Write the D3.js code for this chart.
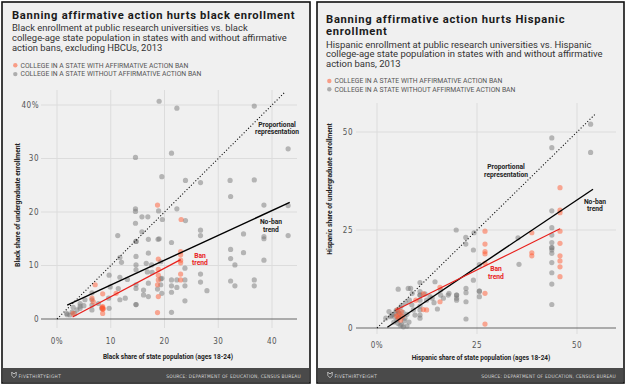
<!DOCTYPE html>
<html><head><meta charset="utf-8">
<script src="https://cdn.jsdelivr.net/npm/d3@7"></script>
<style>body{margin:0;background:#fff}svg{display:block}</style>
</head><body><svg id="c" width="627" height="385"></svg>
<script>
// ---------- DATA ----------
const blackTicksX = [0, 10, 20, 30, 40];
const blackTicksY = [0, 10, 20, 30, 40];
const hispTicksX = [0, 25, 50];
const hispTicksY = [0, 25, 50];

// [state share, enrollment share]
const blackNoBan = [[19.0,40.7],[22.3,39.4],[36.7,39.8],[14.6,30.2],[21.3,31.0],[43.0,31.8],[19.5,26.6],[23.9,25.9],[26.7,25.5],[32.2,25.9],[36.7,26.0],[32.3,22.9],[38.5,21.3],[43.0,21.2],[14.6,20.6],[14.6,20.1],[18.9,20.2],[22.3,20.6],[15.8,19.1],[16.9,19.1],[19.6,18.6],[23.9,18.4],[14.6,17.9],[15.8,16.3],[26.7,16.6],[26.7,15.6],[34.7,15.9],[38.5,15.4],[38.5,15.0],[43.0,15.6],[11.3,15.6],[19.0,15.0],
[14.7,14.5],[14.7,14.5],[17.0,14.9],[18.8,14.9],[11.7,11.5],[14.7,11.7],[17.0,12.3],[12.0,10.6],[14.7,10.1],[16.6,10.4],[17.6,10.1],[19.3,10.7],[9.7,8.2],[11.7,7.8],[13.1,7.4],[14.7,9.2],[16.8,8.8],[17.7,8.7],[19.3,7.5],[14.7,6.4],[14.7,5.7],[16.1,5.4],[17.0,6.7],[19.3,6.4],[18.7,5.6],[11.4,5.7],[12.7,3.9],[11.7,3.6],[9.6,3.9],[9.7,2.0],[14.7,2.7],[14.7,2.7],[16.1,4.5],[17.0,4.2],[6.5,4.9],[6.5,3.6],[6.5,2.6],[6.5,1.7],[7.7,2.9],[8.3,2.0],[4.3,2.9],[4.3,2.0],[3.0,2.2],[3.7,1.7],[1.8,1.05],[2.4,0.75],[4.3,2.4],[5.2,3.6],[9.9,6.0],[1.9,0.8],[2.8,1.3],[3.3,1.0],[5.0,2.5],
[21.3,14.3],[32.3,13.0],[34.7,12.4],[32.3,11.3],[33.1,10.1],[38.5,11.0],[23.8,9.5],[26.7,8.4],[26.7,6.9],[32.3,7.1],[33.1,6.2],[36.7,7.3],[36.7,6.2],[27.9,5.3],[21.3,7.3],[21.3,6.2],[21.3,5.0],[22.3,7.3],[22.3,5.9],[23.8,7.3],[23.8,6.2],[23.8,3.4],[21.3,1.25],[19.5,7.6],[19.5,4.8]];
const blackBan = [[18.7,21.3],[23.1,18.6],[18.85,11.2],[18.85,9.3],[18.85,8.2],[18.85,7.3],[18.7,6.4],[18.85,4.2],[18.7,1.2],[7.1,6.4],[6.5,3.9],[6.75,3.2],[8.5,4.7],[8.5,2.3],[8.4,2.2],[8.6,1.9],[8.5,2.0],[8.5,1.8],[8.5,1.05],[11.0,4.8],[3.0,1.05],[23.0,12.6],[23.0,12.0],[23.0,11.0],[23.0,10.5],[23.0,8.4],[23.0,7.3]];
const blackNoBanTrend = [[1.9,2.6],[43.3,21.8]];
const blackBanTrend = [[2.9,0.37],[23.0,11.1]];
const blackProp = [[0,0],[42.5,42.5]];

const hispNoBan = [[53.4,52.0],[53.4,44.8],[43.7,48.5],[43.7,46.0],[43.7,29.9],[43.7,25.6],[43.7,23.7],[19.8,25.0],[24.25,24.3],[35.25,23.0],[43.7,21.8],[43.7,20.5],[43.7,20.5],[43.7,19.9],[43.7,19.05],[43.7,16.7],[43.7,14.1],[43.7,11.2],[43.7,6.0],[35.5,16.25],[24.1,19.9],[24.1,12.2],[25.6,16.2],[25.6,9.4],[25.6,9.4],[25.6,8.0],[22.2,23.1],[22.2,21.4],[22.25,10.1],[22.25,9.0],[22.25,6.7],[22.25,2.3],[19.9,8.4],[19.9,8.4],[19.9,7.6],[19.9,7.1],[17.8,8.4],[16.6,7.6],[18.0,8.85],[15.9,8.4],[15.9,9.7],[14.5,11.8],[13.8,7.6],[14.25,6.45],[15.1,4.85],[12.0,8.7],[12.4,7.1],[13.25,8.0],[10.75,11.6],[10.75,9.3],[10.75,8.4],[10.75,8.4],[10.75,7.1],[10.75,5.6],[10.75,4.6],[10.75,3.3],[10.75,2.5],[7.8,10.1],[5.3,9.9],[8.4,10.1],[8.8,8.85],[8.1,7.1],[8.7,5.9],[9.1,4.6],[9.5,3.3],[3.0,4.2],[3.4,2.9],[2.2,2.5],[6.2,0.8],[6.6,0.3],
[4.0,3.5],[4.5,2.8],[5.0,2.0],[5.5,3.8],[6.0,3.0],[4.8,4.5],[5.8,5.2],[6.5,4.0],[7.0,2.5],[7.5,3.5],[4.2,1.5],[5.2,1.2],[6.8,1.8],[5.5,2.6],[4.6,3.8],[5.3,4.2],[6.2,5.8],[7.2,6.5],[3.6,3.2],[8.0,1.5],[5.8,0.7],[7.5,0.5]];
const hispBan = [[45.75,35.8],[45.75,30.1],[45.75,29.4],[45.75,24.7],[27.0,24.7],[38.7,24.3],[45.75,21.6],[45.75,18.4],[45.75,17.1],[45.75,15.6],[45.75,13.1],[38.7,19.2],[38.7,18.4],[27.0,21.4],[27.0,19.5],[27.0,18.9],[27.0,16.5],[27.0,8.85],[27.0,1.0],[15.75,10.4],[15.75,6.7],[11.6,8.7],[12.4,4.6],[11.6,4.7],[5.1,4.6],[6.1,4.2],[5.9,2.0],[4.9,3.1],[5.5,3.5],[5.3,2.6],[6.4,3.0],[9.7,7.1]];
const hispNoBanTrend = [[2.6,0.2],[54.0,35.4]];
const hispBanTrend = [[4.75,4.6],[45.75,25.3]];
const hispProp = [[0,0],[54.5,54.5]];

const legendLabels = ["COLLEGE IN A STATE WITH AFFIRMATIVE ACTION BAN", "COLLEGE IN A STATE WITHOUT AFFIRMATIVE ACTION BAN"];

// ---------- DRAW ----------
const svg = d3.select("#c");
const SANS = "Roboto, 'Liberation Sans', Arial, sans-serif";
const TICKF = "'DejaVu Sans Condensed', 'DejaVu Sans', sans-serif";
const GRAY = "#777", RED = "#ff5a32", REDLINE = "#e8201c";

function fit(t, w) {
  const L = t.node().getComputedTextLength();
  const fs = parseFloat(t.attr("font-size"));
  t.attr("font-size", fs * w / L);
  return fs * w / L;
}
// keep font size, adjust letter spacing to reach width
function fitSpacing(t, w) {
  const L = t.node().getComputedTextLength();
  const n = t.text().length;
  const ls = (w - L) / Math.max(1, n - 1);
  t.attr("letter-spacing", ls);
  return ls;
}

function panel(cfg) {
  const g = svg.append("g");
  const b = cfg.box;
  g.append("rect").attr("x", b.x).attr("y", b.y).attr("width", b.w).attr("height", b.h)
    .attr("fill", "#f0f0f0").attr("stroke", "#111").attr("stroke-width", 1.6);
  // footer
  g.append("rect").attr("x", b.x + 0.8).attr("y", cfg.footY).attr("width", b.w - 1.6).attr("height", b.y + b.h - 0.8 - cfg.footY)
    .attr("fill", "#4a4a4a");
  const fx = cfg.foxX, fy = cfg.footY + 7;
  g.append("path").attr("d", `M${fx-2.2},${fy-3} L${fx-1},${fy-1.5} L${fx+1},${fy-1.5} L${fx+2.2},${fy-3} L${fx+2.2},${fy+0.5} L${fx},${fy+2.8} L${fx-2.2},${fy+0.5} Z`)
    .attr("fill", "none").attr("stroke", "#d0d0d0").attr("stroke-width", 0.8);
  const f1 = g.append("text").attr("x", fx + 4.5).attr("y", cfg.footY + 9.5).attr("font-family", TICKF)
    .attr("font-size", 6.5).attr("fill", "#d6d6d6").attr("letter-spacing", 0.4).text("FIVETHIRTYEIGHT");
  fit(f1, 41);
  const f2 = g.append("text").attr("x", cfg.srcRight).attr("y", cfg.footY + 9.5).attr("text-anchor", "end")
    .attr("font-family", TICKF).attr("font-size", 6.5).attr("fill", "#d6d6d6").attr("letter-spacing", 0.2)
    .text("SOURCE: DEPARTMENT OF EDUCATION, CENSUS BUREAU");
  fit(f2, 133);

  // titles
  let ls0;
  cfg.title.forEach((line, i) => {
    const t = g.append("text").attr("x", cfg.tx).attr("y", cfg.titleY[i]).attr("font-family", SANS)
      .attr("font-weight", "bold").attr("font-size", 11.2).attr("fill", "#1a1a1a").text(line);
    if (i === 0) ls0 = fitSpacing(t, cfg.titleW); else t.attr("letter-spacing", ls0);
  });
  const subs = cfg.sub.map((line, i) => g.append("text").attr("x", cfg.tx).attr("y", cfg.subY[i])
    .attr("font-family", SANS).attr("font-size", 9.5).attr("fill", "#333").text(line));
  const sfs = fit(subs[1], cfg.subW);
  subs.forEach(s => s.attr("font-size", sfs));
  // legend
  const cols = [RED, GRAY];
  let lfs;
  legendLabels.forEach((lab, i) => {
    g.append("circle").attr("cx", cfg.tx + 3.3).attr("cy", cfg.legY[i] - 2.2).attr("r", 2.2)
      .attr("fill", cols[i]).attr("fill-opacity", 0.55);
    const t = g.append("text").attr("x", cfg.tx + 8.5).attr("y", cfg.legY[i]).attr("font-family", SANS)
      .attr("font-size", 6.2).attr("fill", "#555").text(lab);
    if (i === 0) lfs = fit(t, 168); else t.attr("font-size", lfs);
  });

  const x = d3.scaleLinear().domain(cfg.xd).range(cfg.xr);
  const y = d3.scaleLinear().domain(cfg.yd).range(cfg.yr);

  // grid
  g.append("g").selectAll("line").data(cfg.ticksX).join("line")
    .attr("x1", d => x(d)).attr("x2", d => x(d)).attr("y1", cfg.gridTop).attr("y2", cfg.gridBottom)
    .attr("stroke", "#dcdcdc").attr("stroke-width", 1);
  g.append("g").selectAll("line").data(cfg.ticksY.filter(d => d !== 0)).join("line")
    .attr("x1", cfg.gridL).attr("x2", cfg.gridR).attr("y1", d => y(d)).attr("y2", d => y(d))
    .attr("stroke", "#dcdcdc").attr("stroke-width", 1);
  g.append("line").attr("x1", cfg.gridL).attr("x2", cfg.gridR).attr("y1", y(0)).attr("y2", y(0))
    .attr("stroke", "#666").attr("stroke-width", 1.1);
  // tick labels
  g.append("g").selectAll("text").data(cfg.ticksX).join("text")
    .attr("x", d => x(d)).attr("y", cfg.xLabY).attr("text-anchor", "middle")
    .attr("font-family", TICKF).attr("font-size", 8).attr("fill", "#555").attr("letter-spacing", 0.5)
    .text((d, i) => i === 0 ? d + "%" : d);
  g.append("g").selectAll("text").data(cfg.ticksY).join("text")
    .attr("x", cfg.yLabX).attr("y", d => y(d) + 2.9).attr("text-anchor", "end")
    .attr("font-family", TICKF).attr("font-size", 8).attr("fill", "#555").attr("letter-spacing", 0.5)
    .text((d, i, a) => i === a.length - 1 && cfg.pctTop ? d + "%" : d);
  // axis titles
  const xt = g.append("text").attr("x", cfg.xTitle[0]).attr("y", cfg.xTitle[1]).attr("text-anchor", "middle")
    .attr("font-family", SANS).attr("font-weight", "bold").attr("font-size", 6.8).attr("fill", "#222").text(cfg.xTitleText);
  fit(xt, cfg.xTitleW);
  const yt = g.append("text").attr("transform", `translate(${cfg.yTitle[0]},${cfg.yTitle[1]}) rotate(-90)`)
    .attr("text-anchor", "middle").attr("font-family", SANS).attr("font-weight", "bold")
    .attr("font-size", 6.8).attr("fill", "#222").text(cfg.yTitleText);
  fit(yt, cfg.yTitleW);

  // points
  const pts = g.append("g");
  pts.selectAll("circle.nb").data(cfg.noBan).join("circle").attr("class", "nb")
    .attr("cx", d => x(d[0])).attr("cy", d => y(d[1])).attr("r", 2.6)
    .attr("fill", GRAY).attr("fill-opacity", 0.5);
  pts.selectAll("circle.b").data(cfg.ban).join("circle").attr("class", "b")
    .attr("cx", d => x(d[0])).attr("cy", d => y(d[1])).attr("r", 2.6)
    .attr("fill", RED).attr("fill-opacity", 0.5);

  const line = d3.line().x(d => x(d[0])).y(d => y(d[1]));
  g.append("path").attr("d", line(cfg.prop)).attr("stroke", "#111").attr("stroke-width", 1.1)
    .attr("stroke-dasharray", "1.1,2").attr("fill", "none");
  g.append("path").attr("d", line(cfg.noBanTrend)).attr("stroke", "#000").attr("stroke-width", 1.4).attr("fill", "none");
  g.append("path").attr("d", line(cfg.banTrend)).attr("stroke", REDLINE).attr("stroke-width", 1.2).attr("fill", "none");

  // annotations
  cfg.notes.forEach(n => {
    const t = g.append("text").attr("text-anchor", "middle").attr("font-family", SANS).attr("font-weight", "bold")
      .attr("font-size", 6.7).attr("fill", n.c);
    n.lines.forEach((l, i) => t.append("tspan").attr("x", n.x).attr("y", n.y + i * 7.5).text(l));
  });
}

panel({
  box: {x: 2, y: 2, w: 308, h: 381}, footY: 368, foxX: 14, srcRight: 301,
  tx: 12, title: ["Banning affirmative action hurts black enrollment"], titleY: [19.3], titleW: 282,
  sub: ["Black enrollment at public research universities vs. black",
        "college-age state population in states with and without affirmative",
        "action bans, excluding HBCUs, 2013"], subY: [30.7, 40.7, 50.7], subW: 275,
  legY: [67.5, 76.3],
  xd: [0, 40], xr: [57, 272], yd: [0, 40], yr: [319, 105],
  ticksX: blackTicksX, ticksY: blackTicksY, pctTop: true,
  gridTop: 90, gridBottom: 328, gridL: 41, gridR: 297, xLabY: 344, yLabX: 39,
  xTitle: [168, 359], xTitleW: 130, xTitleText: "Black share of state population (ages 18-24)",
  yTitle: [19.5, 205], yTitleW: 124, yTitleText: "Black share of undergraduate enrollment",
  noBan: blackNoBan, ban: blackBan, prop: blackProp, noBanTrend: blackNoBanTrend, banTrend: blackBanTrend,
  notes: [{x: 277, y: 126.5, lines: ["Proportional", "representation"], c: "#222"},
          {x: 271, y: 224, lines: ["No-ban", "trend"], c: "#222"},
          {x: 200, y: 257.5, lines: ["Ban", "trend"], c: REDLINE}]
});

panel({
  box: {x: 317, y: 2, w: 307, h: 381}, footY: 368, foxX: 330, srcRight: 616,
  tx: 326, title: ["Banning affirmative action hurts Hispanic", "enrollment"], titleY: [22.5, 35.2], titleW: 238,
  sub: ["Hispanic enrollment at public research universities vs. Hispanic",
        "college-age state population in states with and without affirmative",
        "action bans, 2013"], subY: [47.5, 57.4, 67.3], subW: 277,
  legY: [83.2, 91.5],
  xd: [0, 50], xr: [377, 577], yd: [0, 50], yr: [328, 132],
  ticksX: hispTicksX, ticksY: hispTicksY, pctTop: false,
  gridTop: 103, gridBottom: 334, gridL: 356, gridR: 616, xLabY: 348, yLabX: 353,
  xTitle: [481, 360], xTitleW: 139, xTitleText: "Hispanic share of state population (ages 18-24)",
  yTitle: [331.5, 189], yTitleW: 132, yTitleText: "Hispanic share of undergraduate enrollment",
  noBan: hispNoBan, ban: hispBan, prop: hispProp, noBanTrend: hispNoBanTrend, banTrend: hispBanTrend,
  notes: [{x: 506, y: 169, lines: ["Proportional", "representation"], c: "#222"},
          {x: 595, y: 203.5, lines: ["No-ban", "trend"], c: "#222"},
          {x: 496, y: 271, lines: ["Ban", "trend"], c: REDLINE}]
});
</script></body></html>
